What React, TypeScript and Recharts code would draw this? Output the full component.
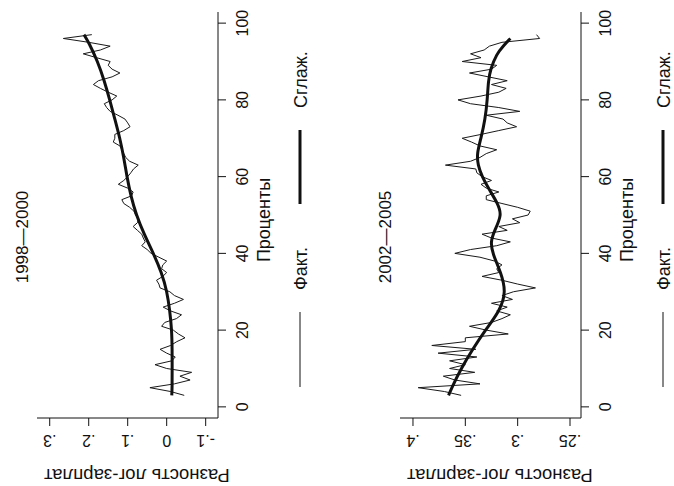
import React from "react";
import { LineChart, Line, XAxis, YAxis } from "recharts";

// percentiles of the wage distribution
const percentiles = [
  3, 4, 5, 6, 7, 8, 9, 10, 11, 12, 13, 14, 15, 16, 17, 18, 19, 20, 21, 22, 23, 24, 25, 26, 27, 28, 29, 30, 31, 32,
  33, 34, 35, 36, 37, 38, 39, 40, 41, 42, 43, 44, 45, 46, 47, 48, 49, 50, 51, 52, 53, 54, 55, 56, 57, 58, 59, 60, 61, 62,
  63, 64, 65, 66, 67, 68, 69, 70, 71, 72, 73, 74, 75, 76, 77, 78, 79, 80, 81, 82, 83, 84, 85, 86, 87, 88, 89, 90, 91, 92,
  93, 94, 95, 96, 97,
];

// 1998—2000
const fact1998 = [
  -0.045, -0.01, 0.043, -0.02, -0.06, -0.034, -0.064, 0.0, 0.03, -0.013, -0.022, 0.0, 0.017, -0.01, -0.026, -0.047, -0.03, -0.017, 0.013, 0.005,
  -0.025, -0.038, -0.01, 0.009, -0.02, -0.043, -0.02, -0.008, 0.017, 0.02, 0.026, 0.01, 0.0, 0.013, 0.01, 0.0, 0.02, 0.04, 0.05, 0.064,
  0.055, 0.06, 0.064, 0.075, 0.086, 0.075, 0.072, 0.08, 0.084, 0.095, 0.11, 0.115, 0.09, 0.086, 0.1, 0.124, 0.11, 0.1, 0.092, 0.085,
  0.073, 0.095, 0.105, 0.11, 0.115, 0.12, 0.137, 0.133, 0.133, 0.11, 0.094, 0.1, 0.107, 0.125, 0.145, 0.154, 0.16, 0.14, 0.128, 0.15,
  0.17, 0.188, 0.175, 0.14, 0.12, 0.14, 0.15, 0.145, 0.18, 0.214, 0.17, 0.145, 0.2, 0.265, 0.192,
];
const smoothPct1998 = [3, 5, 10, 15, 20, 25, 30, 35, 40, 45, 50, 55, 60, 65, 70, 75, 80, 85, 90, 95, 97];
const smooth1998 = [
  -0.013, -0.014, -0.014, -0.014, -0.013, -0.008, -0.001, 0.013, 0.034, 0.058, 0.078, 0.092, 0.102, 0.11, 0.12, 0.133, 0.146, 0.16,
  0.177, 0.2, 0.212,
];

// 2002—2005
const fact2002 = [
  0.354, 0.37, 0.395, 0.336, 0.36, 0.371, 0.341, 0.365, 0.35, 0.365, 0.339, 0.376, 0.34, 0.382, 0.35, 0.35, 0.309, 0.33, 0.346, 0.325,
  0.315, 0.307, 0.32, 0.31, 0.325, 0.305, 0.315, 0.304, 0.283, 0.3, 0.315, 0.334, 0.318, 0.32, 0.315, 0.322, 0.336, 0.36, 0.345, 0.32,
  0.307, 0.325, 0.334, 0.31, 0.318, 0.298, 0.305, 0.29, 0.288, 0.3, 0.315, 0.33, 0.33, 0.318, 0.33, 0.335, 0.325, 0.334, 0.339, 0.34,
  0.369, 0.345, 0.336, 0.33, 0.32, 0.336, 0.344, 0.353, 0.335, 0.318, 0.301, 0.31, 0.314, 0.33, 0.298, 0.318, 0.345, 0.357, 0.335, 0.318,
  0.311, 0.325, 0.31, 0.328, 0.346, 0.325, 0.32, 0.353, 0.335, 0.345, 0.332, 0.327, 0.315, 0.279, 0.282,
];
const smoothPct2002 = [3, 5, 10, 15, 20, 25, 30, 35, 40, 43, 46, 50, 53, 57, 60, 63, 66, 70, 75, 80, 85, 88, 92, 94, 96];
const smooth2002 = [
  0.366, 0.363, 0.354, 0.343, 0.331, 0.317, 0.311, 0.316, 0.324, 0.326, 0.322, 0.315, 0.319, 0.328, 0.334, 0.338, 0.339, 0.335, 0.331,
  0.329, 0.328, 0.326, 0.32, 0.314, 0.307,
];

const xTicks = [0, 20, 40, 60, 80, 100];
const yTicks1998 = [-0.1, 0, 0.1, 0.2, 0.3];
const yLabels1998 = ["-.1", "0", ".1", ".2", ".3"];
const yTicks2002 = [0.25, 0.3, 0.35, 0.4];
const yLabels2002 = [".25", ".3", ".35", ".4"];

const FONT = "'Liberation Sans', Arial, Helvetica, sans-serif";
const INK = "#111";

function toRows(xs: number[], ys: number[]) {
  return xs.map((p, i) => ({ p, v: ys[i] }));
}

function Panel(props: {
  title: string;
  fact: number[];
  smoothX: number[];
  smooth: number[];
  domain: [number, number];
  ticks: number[];
  labels: string[];
}) {
  const { title, fact, smoothX, smooth, domain, ticks, labels } = props;
  const factRows = toRows(percentiles, fact);
  const smoothRows = toRows(smoothX, smooth);

  const YTick = (t: any) => {
    const i = ticks.findIndex((v) => Math.abs(v - t.payload.value) < 1e-9);
    return (
      <text x={t.x} y={t.y} transform={`rotate(-90 ${t.x} ${t.y})`} textAnchor="middle" fontSize={16} fill={INK} fontFamily={FONT}>
        {labels[i]}
      </text>
    );
  };
  const XTick = (t: any) => (
    <text x={t.x} y={t.y} dy="0.71em" textAnchor="middle" fontSize={16} fill={INK} fontFamily={FONT}>
      {t.payload.value}
    </text>
  );

  return (
    <div style={{ position: "relative", width: 486, height: 311 }}>
      <LineChart width={486} height={311} data={factRows} margin={{ top: 37, right: 12, left: 0, bottom: 0 }}>
        <XAxis
          type="number"
          dataKey="p"
          domain={[-2.9, 102.9]}
          ticks={xTicks}
          allowDataOverflow
          height={93}
          tickSize={8}
          tickMargin={11}
          tick={XTick}
          axisLine={{ stroke: INK }}
          tickLine={{ stroke: INK }}
        />
        <YAxis
          type="number"
          domain={domain}
          ticks={ticks}
          allowDataOverflow
          width={68}
          tickSize={8}
          tickMargin={9}
          tick={YTick}
          axisLine={{ stroke: INK }}
          tickLine={{ stroke: INK }}
        />
        <Line data={factRows} dataKey="v" type="linear" stroke="#1a1a1a" strokeWidth={1} dot={false} isAnimationActive={false} />
        <Line data={smoothRows} dataKey="v" type="basis" stroke="#111" strokeWidth={3} dot={false} isAnimationActive={false} />
      </LineChart>
      <svg width={486} height={311} style={{ position: "absolute", left: 0, top: 0, pointerEvents: "none" }} fontFamily={FONT} fill={INK}>
        <text x={249} y={28} textAnchor="middle" fontSize={17}>{title}</text>
        <text x={266} y={270} textAnchor="middle" fontSize={18}>Проценты</text>
        <text x={17} y={137} transform="rotate(-90 17 137)" textAnchor="middle" fontSize={18.5}>Разность лог-зарплат</text>
        <line x1={99} x2={174} y1={300} y2={300} stroke={INK} strokeWidth={1} />
        <text x={196} y={307} fontSize={18}>Факт.</text>
        <line x1={282} x2={356} y1={300} y2={300} stroke={INK} strokeWidth={3} />
        <text x={378} y={307} fontSize={18}>Сглаж.</text>
      </svg>
    </div>
  );
}

export default function App() {
  return (
    <div style={{ position: "absolute", left: 0, top: 0, width: 674, height: 486, overflow: "hidden", background: "#fff" }}>
      <div
        style={{
          position: "absolute",
          left: 0,
          top: 0,
          width: 486,
          height: 674,
          transformOrigin: "0 0",
          transform: "translateY(486px) rotate(-90deg)",
        }}
      >
        <div style={{ position: "absolute", left: 0, top: 0 }}>
          <Panel title="1998—2000" fact={fact1998} smoothX={smoothPct1998} smooth={smooth1998} domain={[-0.1316, 0.3326]} ticks={yTicks1998} labels={yLabels1998} />
        </div>
        <div style={{ position: "absolute", left: 0, top: 363 }}>
          <Panel title="2002—2005" fact={fact2002} smoothX={smoothPct2002} smooth={smooth2002} domain={[0.2395, 0.4124]} ticks={yTicks2002} labels={yLabels2002} />
        </div>
      </div>
    </div>
  );
}
